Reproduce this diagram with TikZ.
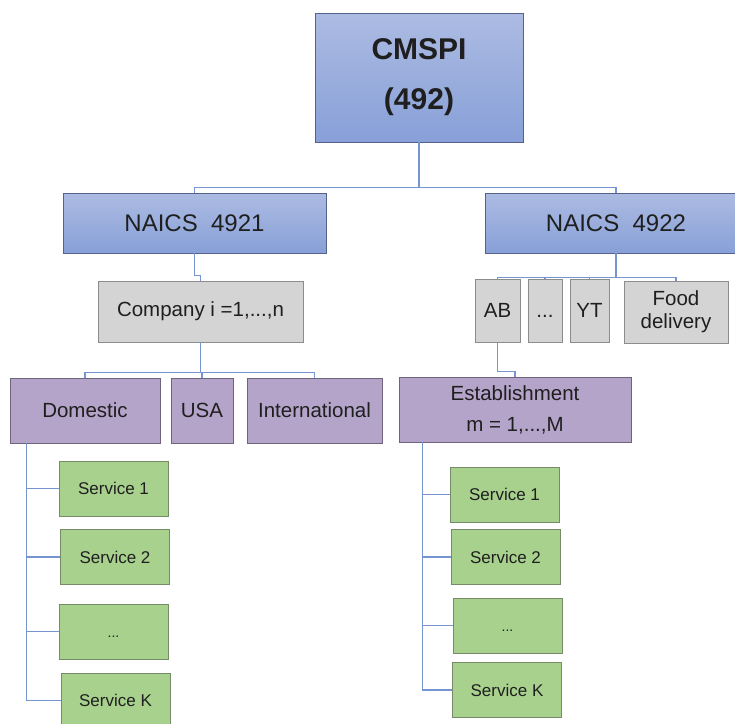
\documentclass[tikz,border=0pt]{standalone}
\usepackage{fontspec}
\setmainfont{Liberation Sans}
\usepackage{tikz}
\usetikzlibrary{positioning}
\definecolor{blueTop}{RGB}{172,187,226}
\definecolor{blueBot}{RGB}{136,160,216}
\definecolor{blueEdge}{RGB}{84,98,140}
\definecolor{grayFill}{RGB}{212,212,212}
\definecolor{grayEdge}{RGB}{140,140,140}
\definecolor{lilaFill}{RGB}{180,164,201}
\definecolor{lilaEdge}{RGB}{112,100,124}
\definecolor{greenFill}{RGB}{169,209,142}
\definecolor{greenEdge}{RGB}{118,140,104}
\definecolor{linkBlue}{RGB}{118,148,208}

\tikzset{
  box/.style={inner sep=2pt, align=center, text=black!88, line width=0.9pt},
  bluebox/.style={box, draw=blueEdge, top color=blueTop, bottom color=blueBot},
  graybox/.style={box, draw=grayEdge, fill=grayFill,
    font=\fontsize{20.5}{23}\selectfont},
  lilabox/.style={box, draw=lilaEdge, fill=lilaFill,
    font=\fontsize{20.5}{31}\selectfont},
  greenbox/.style={box, draw=greenEdge, fill=greenFill,
    minimum width=109pt, minimum height=55pt,
    font=\fontsize{17}{20}\selectfont},
  link/.style={draw=linkBlue, line width=1.7pt}
}

\begin{document}
\begin{tikzpicture}[x=1pt, y=-1pt]
  \useasboundingbox (0,0) rectangle (735,723);

  % top
  \node[bluebox, minimum width=208pt, minimum height=129pt,
        font=\fontsize{30}{50}\selectfont\bfseries]
    (cmspi) at (419,77.5) {CMSPI\\(492)};

  % NAICS level
  \node[bluebox, minimum width=263pt, minimum height=60pt,
        font=\fontsize{24}{28}\selectfont]
    (n4921) at (194.5,223) {NAICS\ \ 4921};
  \node[bluebox, minimum width=262pt, minimum height=60pt,
        font=\fontsize{24}{28}\selectfont]
    (n4922) at (616,223) {NAICS\ \ 4922};

  % left branch
  \node[graybox, minimum width=205pt, minimum height=61pt]
    (company) at (200.5,311.5) {Company i =1,...,n};
  \node[lilabox, minimum width=150pt, minimum height=65pt]
    (domestic) at (85,410.5) {Domestic};
  \node[lilabox, minimum width=62pt, minimum height=65pt]
    (usa) at (202,410.5) {USA};
  \node[lilabox, minimum width=135pt, minimum height=65pt]
    (intl) at (314.5,410.5) {International};

  \node[greenbox] (ls1) at (113.5,488.5) {Service 1};
  \node[greenbox] (ls2) at (115,557) {Service 2};
  \node[greenbox] (ls3) at (113.5,631.5) {\vphantom{S}\fontsize{14}{16}\selectfont...};
  \node[greenbox] (ls4) at (115.5,700.5) {Service K};

  % right branch
  \node[graybox, minimum width=45pt, minimum height=63pt]
    (ab) at (497.5,310.5) {AB};
  \node[graybox, minimum width=34pt, minimum height=63pt]
    (dots) at (545,310.5) {\vphantom{A}...};
  \node[graybox, minimum width=39pt, minimum height=63pt]
    (yt) at (589.5,310.5) {YT};
  \node[graybox, minimum width=104pt, minimum height=62pt]
    (food) at (676,312) {Food\\delivery};
  \node[lilabox, minimum width=232pt, minimum height=65pt]
    (estab) at (515,409.5) {Establishment\\m = 1,...,M};

  \node[greenbox] (rs1) at (504.5,494.5) {Service 1};
  \node[greenbox] (rs2) at (505.5,557) {Service 2};
  \node[greenbox] (rs3) at (507.5,625.5) {\vphantom{S}\fontsize{14}{16}\selectfont...};
  \node[greenbox] (rs4) at (507,690) {Service K};

  % connectors
  \draw[link] (cmspi.south) -- ++(0,45) coordinate (bus0);
  \draw[link] (bus0) -| (n4921.north);
  \draw[link] (bus0) -| (n4922.north);

  \draw[link] (n4921.south) -- ++(0,22) -| (company.north);
  \draw[link] (company.south) -- ++(0,30) coordinate (bus1);
  \foreach \k in {domestic,usa,intl}
    \draw[link] (bus1) -| (\k.north);

  \draw[link] (n4922.south) -- ++(0,24) coordinate (bus2);
  \foreach \k in {ab,dots,yt,food}
    \draw[link] (bus2) -| (\k.north);
  \draw[link] (ab.south) -- ++(0,29) -| (estab.north);

  \path (domestic.south west) ++(17,0) coordinate (ltrunk);
  \foreach \k in {ls1,ls2,ls3,ls4}
    \draw[link] (ltrunk) |- (\k.west);
  \path (estab.south west) ++(24,0) coordinate (rtrunk);
  \foreach \k in {rs1,rs2,rs3,rs4}
    \draw[link] (rtrunk) |- (\k.west);
\end{tikzpicture}
\end{document}
